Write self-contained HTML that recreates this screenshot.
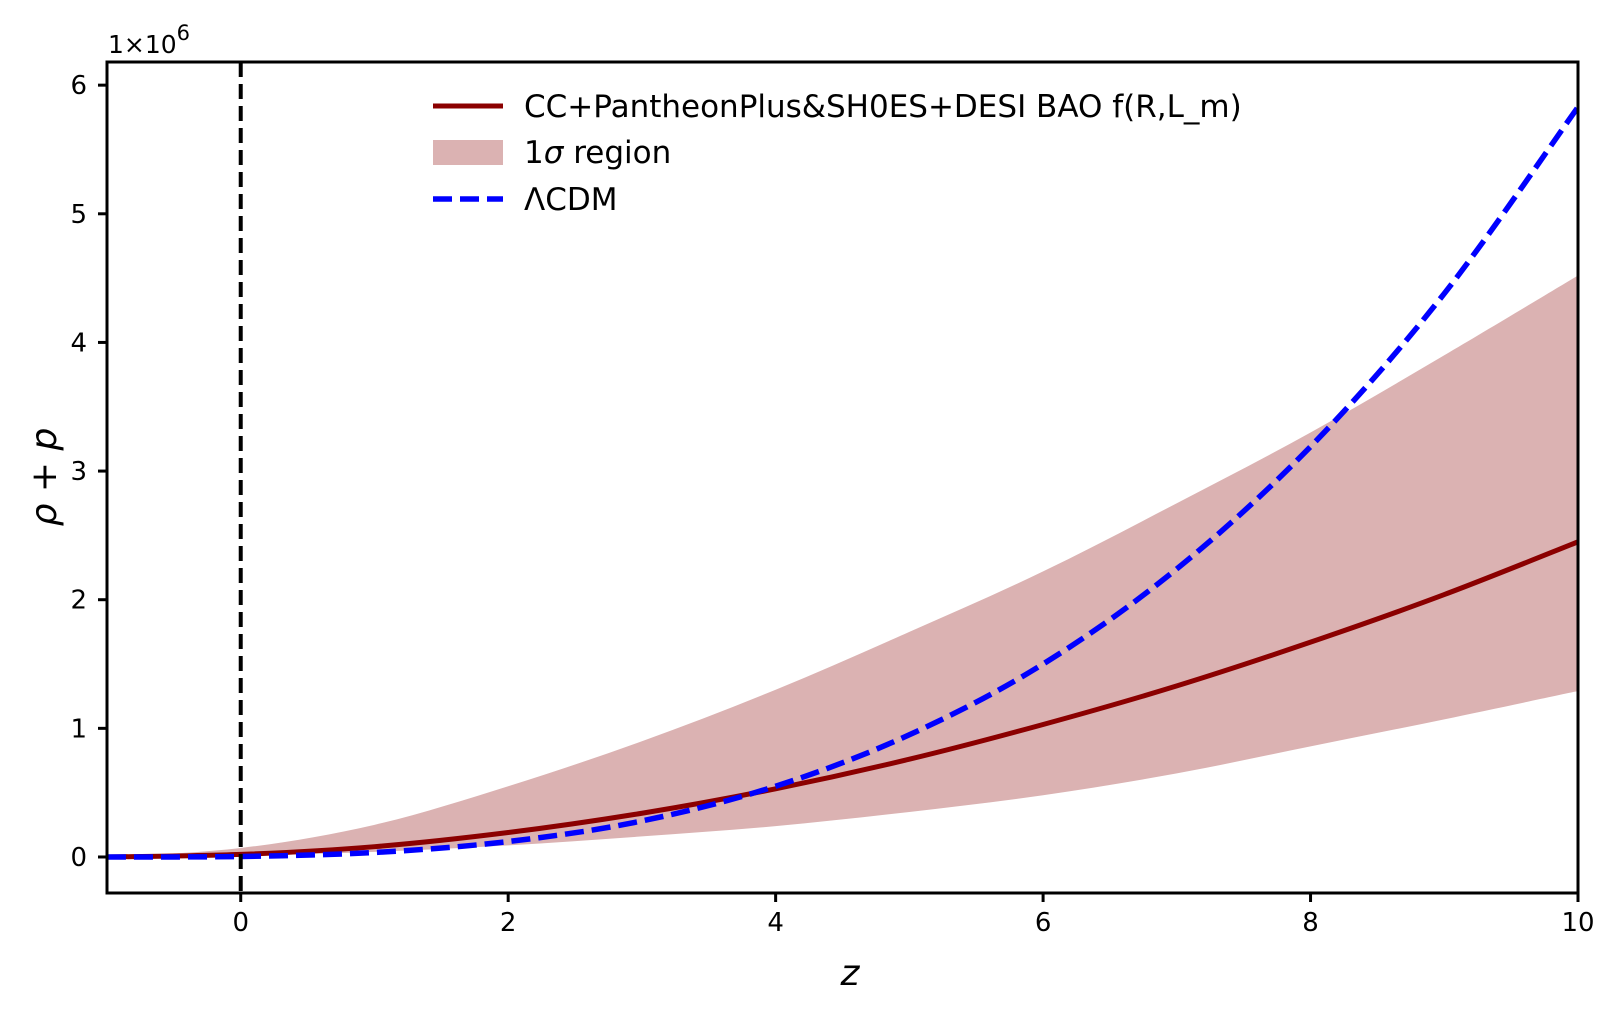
<!DOCTYPE html>
<html><head><meta charset="utf-8"><style>
body{margin:0;background:#fff;}
svg text{font-family:"DejaVu Sans","Liberation Sans",sans-serif;}
</style></head><body>
<svg id="chart" width="1615" height="1005" xmlns="http://www.w3.org/2000/svg">
<g id="plot"></g>
</svg>
<script>
const zVals=[-1,0,1,2,3,4,5,6,7,8,9,10];
const fitVals=[0,0.02,0.08,0.19,0.34,0.53,0.76,1.03,1.33,1.67,2.04,2.45];
const upperVals=[0,0.07,0.25,0.55,0.9,1.3,1.75,2.22,2.75,3.3,3.9,4.52];
const lowerVals=[0,0.01,0.04,0.09,0.16,0.24,0.35,0.48,0.65,0.86,1.07,1.29];
const lcdmVals=[0,0.004,0.035,0.12,0.28,0.55,0.95,1.5,2.24,3.19,4.38,5.83];
const xTicks=[0,2,4,6,8,10];
const yTicks=[0,1,2,3,4,5,6];

const L=107,R=1578,T=62,B=893;
const xMin=-1,xMax=10,yMin=-0.28,yMax=6.18;
const sx=v=>L+(v-xMin)/(xMax-xMin)*(R-L);
const sy=v=>B-(v-yMin)/(yMax-yMin)*(B-T);
const NS="http://www.w3.org/2000/svg";
const svg=document.getElementById('chart');
const g=document.getElementById('plot');
function mk(tag,attrs,parent){const e=document.createElementNS(NS,tag);for(const k in attrs)e.setAttribute(k,attrs[k]);(parent||svg).appendChild(e);return e;}
function smooth(xs,ys){
  const p=xs.map((x,i)=>[sx(x),sy(ys[i])]);
  let d=`M${p[0][0]},${p[0][1]}`;
  for(let i=0;i<p.length-1;i++){
    const p0=p[Math.max(i-1,0)],p1=p[i],p2=p[i+1],p3=p[Math.min(i+2,p.length-1)];
    d+=` C${p1[0]+(p2[0]-p0[0])/6},${p1[1]+(p2[1]-p0[1])/6} ${p2[0]-(p3[0]-p1[0])/6},${p2[1]-(p3[1]-p1[1])/6} ${p2[0]},${p2[1]}`;
  }
  return d;
}
const defs=mk('defs',{});
const cp=mk('clipPath',{id:'clip'},defs);
mk('rect',{x:L,y:T,width:R-L,height:B-T},cp);
g.setAttribute('clip-path','url(#clip)');
const up=smooth(zVals,upperVals);
const loRev=smooth(zVals.slice().reverse(),lowerVals.slice().reverse());
const band=mk('path',{d:up+' L'+loRev.slice(1)+' Z',fill:'#dbb2b2',stroke:'none'},g);


const fit=mk('path',{d:smooth(zVals,fitVals),fill:'none',stroke:'#8b0000','stroke-width':5},g);


const lc=mk('path',{d:smooth(zVals,lcdmVals),fill:'none',stroke:'#0000ff','stroke-width':5.5,'stroke-dasharray':'19,8'},g);


const vl=mk('line',{x1:sx(0),x2:sx(0),y1:T,y2:B,stroke:'#000','stroke-width':4,'stroke-dasharray':'15,7'},g);


const fr=mk('rect',{x:L,y:T,width:R-L,height:B-T,fill:'none',stroke:'#000','stroke-width':3});


xTicks.forEach(t=>{
  const ln=mk('line',{x1:sx(t),x2:sx(t),y1:B,y2:B+9,stroke:'#000','stroke-width':3});
  
  
  const tx=mk('text',{x:sx(t),y:B+38,'font-size':26,'text-anchor':'middle'});tx.textContent=t;
  
  
});
yTicks.forEach(t=>{
  const ln=mk('line',{x1:L-9,x2:L,y1:sy(t),y2:sy(t),stroke:'#000','stroke-width':3});
  
  
  const tx=mk('text',{x:L-20,y:sy(t)+9,'font-size':26,'text-anchor':'end'});tx.textContent=t;
  
  
});
</script>
<svg style="position:absolute;left:0;top:0" width="1615" height="1005" xmlns="http://www.w3.org/2000/svg">
<text x="108" y="53" font-size="25" font-family="DejaVu Sans,sans-serif">1×10<tspan dy="-13" font-size="21">6</tspan></text>
<text x="850" y="985" font-size="36" font-style="italic" text-anchor="middle" font-family="DejaVu Sans,sans-serif">z</text>
<text transform="translate(56,477) rotate(-90)" font-size="36" font-style="italic" text-anchor="middle" font-family="DejaVu Sans,sans-serif">ρ + p</text>
<g font-family="DejaVu Sans,sans-serif" font-size="31">
<line x1="433" y1="106" x2="503" y2="106" stroke="#8b0000" stroke-width="5"/>
<text x="524" y="117">CC+PantheonPlus&amp;SH0ES+DESI BAO f(R,L_m)</text>
<rect x="433" y="140" width="70" height="25" fill="#dbb2b2"/>
<text x="524" y="163">1<tspan font-style="italic">σ</tspan> region</text>
<line x1="433" y1="199" x2="503" y2="199" stroke="#0000ff" stroke-width="5.5" stroke-dasharray="19,8"/>
<text x="524" y="210">ΛCDM</text>
</g>
</svg>
</body></html>
